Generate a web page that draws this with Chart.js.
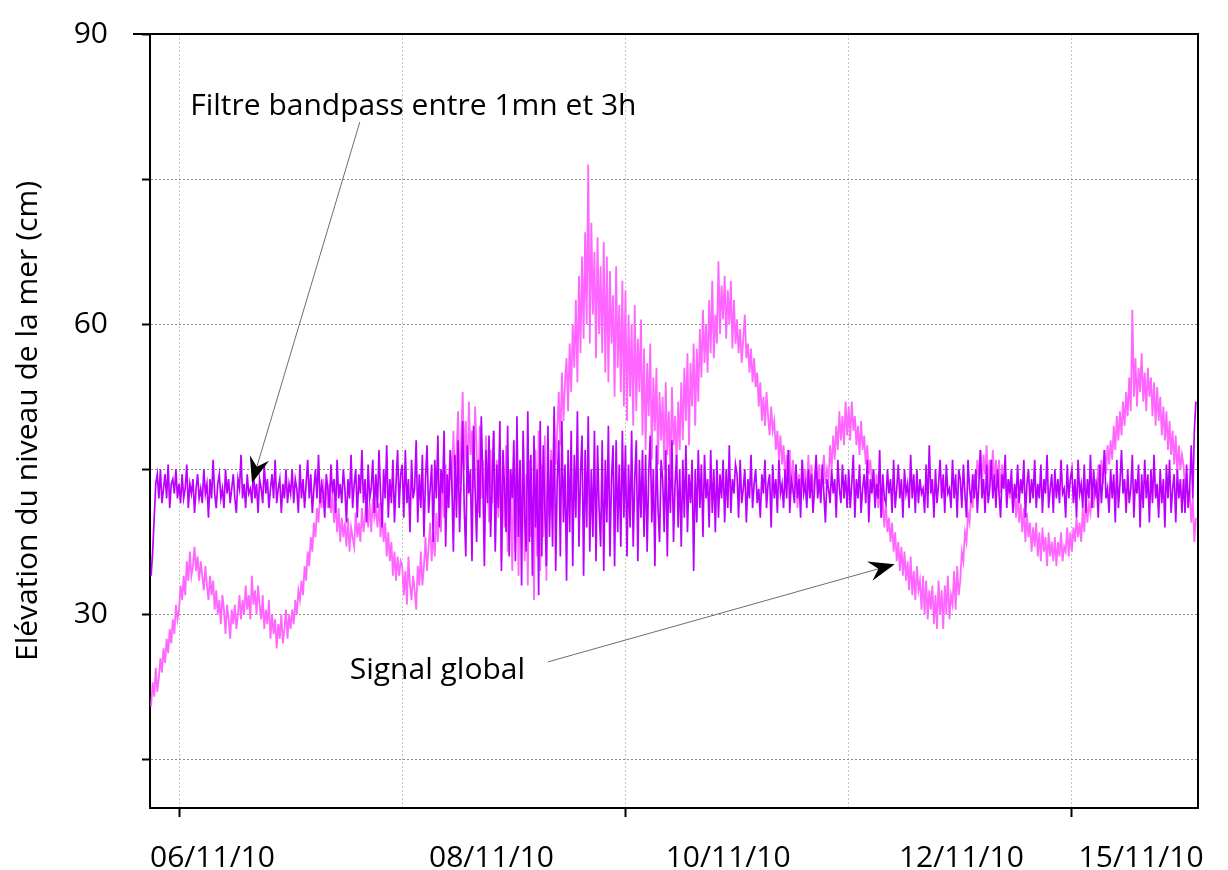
<!DOCTYPE html>
<html>
<head>
<meta charset="utf-8">
<script src="https://cdn.jsdelivr.net/npm/chart.js@4.4.1/dist/chart.umd.min.js"></script>
<style>
  html, body { margin: 0; padding: 0; background: #fff; }
</style>
</head>
<body>
<canvas id="chart" width="1228" height="870"></canvas>
<script>
'use strict';

// ── DATA ─────────────────────────────────────────────────────────────────────
// Sea level (cm), one reading every 20 min (72 per day). Day number = day of Nov 2010.
const SAMPLES_PER_DAY = 72;
const dayStarts = [5.75, 6, 7, 8, 9, 10, 11, 12, 13, 14, 15];

// "Signal global" (raw record)
const global05 = [20.5, 23, 21.5, 24.5, 22, 23.5, 25.5, 24, 26.5, 25, 27.5, 26, 28.5, 27, 29.5, 28, 31, 29.5];
const global06 = [
  30.5, 33, 31.5, 34, 32, 35.5, 33.5, 36.5, 34, 35, 37, 34.5,
  36, 33.5, 35.5, 34, 32.5, 35, 33, 31.5, 34, 32, 33.5, 30.5,
  32.5, 30, 31.5, 29, 32, 30.5, 28, 31, 29.5, 27.5, 30.5, 29,
  31, 28.5, 30, 32, 29.5, 31.5, 30, 33, 30.5, 32, 29.5, 34,
  31, 32.5, 30, 33, 31, 29.5, 32, 28.5, 30.5, 29, 31.5, 27.5,
  30, 28, 29.5, 26.5, 29, 27.5, 30, 27, 28.5, 30.5, 27.5, 30];
const global07 = [
  28.5, 30.5, 29, 31.5, 30, 32.5, 31.5, 33.5, 32, 35, 33.5, 36.5,
  35, 38, 36.5, 39.5, 38, 41, 39.5, 42.5, 41, 44, 42, 43.5,
  41, 43.5, 40.5, 42.5, 39.5, 41.5, 38.5, 41, 37.5, 40, 38, 39.5,
  37, 40, 36.5, 39, 38, 37, 40.5, 38, 39.5, 37.5, 41, 38.5,
  40, 42.5, 39, 41.5, 38.5, 42, 40, 41, 39, 41.5, 38, 40.5,
  37.5, 39.5, 36, 38.5, 35.5, 37.5, 34, 36.5, 33.5, 36, 34, 35.5];
const global08 = [
  35, 32, 34.5, 31, 36, 33, 31.5, 34, 32.5, 30.5, 35, 33,
  36.5, 33, 35, 38, 34.5, 37, 39.5, 35.5, 38.5, 36, 40.5, 37.5,
  42, 38.5, 44, 40, 45.5, 41, 43, 47, 42.5, 49, 44, 46.5,
  51, 43.5, 48, 53, 45, 50, 42.5, 52, 46.5, 49, 43, 51.5,
  47, 40.5, 49.5, 42, 46, 38.5, 48.5, 44, 39.5, 47, 41.5, 49,
  37.5, 46, 40, 48, 35.5, 44.5, 39, 47.5, 36.5, 45, 42, 34.5];
const global09 = [
  45, 36.5, 47.5, 34, 43, 39, 48, 35.5, 44.5, 33, 46, 38,
  42, 31.5, 47, 36, 49, 34.5, 45.5, 38, 48.5, 33.5, 44, 40,
  47, 43, 50.5, 45.5, 49, 53, 47.5, 55, 50, 54, 56.5, 51,
  58, 53, 60, 55.5, 62.5, 54, 65, 57, 67, 58.5, 69.5, 60,
  76.5, 58, 70.5, 61, 67.5, 56.5, 69, 59, 66, 57, 68.5, 55,
  67, 54, 65.5, 58, 63, 52.5, 66, 55.5, 62, 53, 64.5, 51.5];
const global10 = [
  63.5, 50, 61, 52.5, 60, 49.5, 62, 51, 58.5, 53, 60.5, 48.5,
  57.5, 47, 56, 50.5, 58, 46, 54.5, 49, 55.5, 45.5, 53, 48,
  52.5, 45, 54, 46.5, 51, 44.5, 53.5, 47.5, 50.5, 45.5, 52, 47,
  54, 48, 55.5, 50, 57, 47.5, 56, 51.5, 58, 49.5, 57.5, 52,
  59.5, 54.5, 61.5, 56, 60, 55, 62.5, 57, 64.5, 56.5, 61, 58,
  66.5, 59, 64, 60.5, 65, 58.5, 63.5, 60, 64.5, 57.5, 62.5, 58];
const global11 = [
  60.5, 57, 59.5, 56, 58.5, 61, 56.5, 58, 55, 57.5, 54, 56.5,
  53.5, 55, 51.5, 54, 50, 52.5, 49.5, 53, 50.5, 48.5, 51.5, 49,
  50, 47, 49, 46, 48.5, 45.5, 47.5, 44, 46.5, 43.5, 47, 42.5,
  46, 43, 45.5, 41, 44.5, 42.5, 46, 43.5, 45, 42, 46.5, 43,
  45.5, 42.5, 44, 46, 43, 45.5, 42, 44.5, 46.5, 43.5, 45, 44,
  47.5, 45, 48.5, 46, 49.5, 47, 51, 48, 50.5, 47.5, 52, 48.5];
const global12 = [
  51.5, 48, 52, 49, 50.5, 47.5, 49.5, 46.5, 50, 47, 48.5, 45.5,
  47.5, 44.5, 46, 43, 45, 42, 44.5, 41, 43, 40, 42, 39,
  41.5, 38.5, 40, 37.5, 39.5, 36.5, 38.5, 35.5, 37.5, 34.5, 37, 34,
  36.5, 33.5, 35.5, 32.5, 36, 32, 34.5, 31.5, 35, 32.5, 33.5, 30.5,
  34, 30, 33.5, 29.5, 32.5, 30.5, 33, 29, 32, 28.5, 33.5, 30,
  32.5, 28.5, 33, 30, 34, 29.5, 32, 31, 34.5, 30.5, 35, 32];
const global13 = [
  33.5, 36.5, 35.5, 38.5, 37.5, 40.5, 39.5, 42.5, 41, 44.5, 43, 46,
  44, 47, 43.5, 46.5, 44.5, 47.5, 43, 46, 44, 47, 43.5, 46,
  43.5, 46, 42.5, 45.5, 43, 44.5, 41.5, 44, 42, 43.5, 40.5, 43,
  40, 42.5, 39.5, 41.5, 38.5, 41, 37.5, 40.5, 38, 39.5, 36.5, 39,
  37, 39.5, 36, 38.5, 35.5, 39, 36.5, 38, 35, 38.5, 36, 37.5,
  35.5, 38, 35, 37.5, 36, 38.5, 35.5, 37, 36.5, 39, 36, 38.5];
const global14 = [
  36.5, 39, 37.5, 40, 38, 39.5, 37.5, 41, 38.5, 42, 39.5, 41.5,
  40.5, 43, 41, 44, 42, 45.5, 43, 46, 43.5, 47, 44.5, 47.5,
  45.5, 48, 46, 49.5, 47, 50.5, 48, 51, 48.5, 52, 49.5, 53,
  50.5, 54.5, 51, 61.5, 52.5, 56.5, 51.5, 55.5, 53, 57, 52, 55,
  51, 55.5, 52.5, 54.5, 50.5, 54, 49.5, 53.5, 50, 52.5, 48.5, 51.5,
  48, 51, 47, 50, 46.5, 49, 45.5, 48.5, 44.5, 47.5, 45, 46.5];
const global15 = [45.5, 43, 44.5, 41.5, 43, 39.5, 42, 37.5, 40];

// "Filtre bandpass entre 1mn et 3h"
const band05 = [34, 36.5, 40, 43.5, 44.5, 42, 45, 41.5, 43, 44.5, 42, 45.5, 41, 43.5, 44, 42.5, 45, 42];
const band06 = [
  43.5, 41.5, 44.5, 42, 43, 45.5, 41, 43.5, 42.5, 44, 40.5, 43,
  44.5, 42, 43, 41.5, 45, 42.5, 43.5, 40, 44, 42, 46, 42.5,
  41, 43.5, 44.5, 42, 43, 41, 45, 42.5, 44, 41.5, 43, 44.5,
  42, 40.5, 44, 43, 46.5, 42, 43.5, 41, 44.5, 42.5, 43, 41.5,
  45, 42, 43.5, 40.5, 44, 43, 41.5, 45.5, 42.5, 44, 41, 43,
  44.5, 42, 46, 41.5, 43, 44, 40.5, 43.5, 42, 45, 41.5, 43.5];
const band07 = [
  42.5, 45, 41.5, 44, 43, 40.5, 45.5, 42, 44, 41, 43.5, 46,
  42, 44.5, 40.5, 43, 45, 42, 46.5, 41.5, 43.5, 42.5, 40, 44.5,
  43, 41, 45.5, 42.5, 44, 40.5, 46, 42, 43.5, 41.5, 45, 43,
  39.5, 44, 42, 46.5, 41, 43.5, 45, 40, 44.5, 42.5, 47, 41.5,
  44, 39.5, 45.5, 42, 43, 46, 40.5, 44.5, 41, 47, 42.5, 39,
  45, 42, 47.5, 40, 44, 41.5, 46, 39.5, 43.5, 47, 41, 44.5];
const band08 = [
  45.5, 40, 47, 41.5, 44, 38.5, 46, 42, 43, 48, 39.5, 44.5,
  41, 46.5, 38, 44, 47.5, 40.5, 43, 45.5, 37.5, 46, 42, 48.5,
  39, 45, 42.5, 49, 37, 44.5, 41, 47, 43.5, 36.5, 46.5, 40,
  48, 38.5, 44, 50, 41, 36, 47.5, 42.5, 45, 35.5, 49.5, 43,
  37.5, 46, 40, 50.5, 44, 35, 47, 41.5, 48.5, 38, 43.5, 49,
  36.5, 45.5, 41, 50, 34.5, 47, 43, 38.5, 49.5, 36, 45, 42];
const band09 = [
  48, 35.5, 50.5, 38, 46, 33, 49, 40, 36.5, 51, 37.5, 46.5,
  34, 48.5, 39, 45, 32, 50, 36, 47.5, 41, 35, 49.5, 38,
  46, 37, 51.5, 34.5, 44, 48, 36, 50, 39.5, 45.5, 33.5, 47,
  38.5, 49, 35, 46.5, 40, 51, 37, 44.5, 48.5, 34, 47, 39,
  50.5, 36.5, 45, 38, 49, 35.5, 47.5, 41, 37, 48, 34.5, 46,
  39.5, 49.5, 36, 44, 47.5, 35, 48, 38.5, 45.5, 37, 49, 40];
const band10 = [
  47.5, 36, 45.5, 39, 49, 37, 44, 48, 35.5, 46, 40, 47,
  38, 46.5, 36.5, 44.5, 48.5, 39.5, 45, 35, 47.5, 41, 37.5, 46,
  44, 38.5, 47, 36, 45.5, 40.5, 48, 37.5, 43.5, 46.5, 39, 45,
  37, 46, 40, 47.5, 38.5, 44.5, 41.5, 46, 34.5, 45, 39.5, 47,
  41, 45.5, 38, 46.5, 42, 44, 39, 47, 40.5, 45, 38.5, 46,
  40, 44.5, 42, 46, 39.5, 45, 41, 47.5, 40.5, 44, 42.5, 45.5];
const band11 = [
  44.5, 40, 46, 41.5, 43, 45, 39.5, 44, 42, 46.5, 41, 43.5,
  45, 41.5, 43, 40, 44.5, 42.5, 46, 41, 43.5, 44.5, 39, 45.5,
  42, 44, 40.5, 46, 42.5, 43.5, 41, 45, 42, 47, 40.5, 44,
  43, 41.5, 45.5, 42, 44, 40, 46, 42.5, 43.5, 41, 45, 42,
  44.5, 40.5, 43, 46.5, 42, 44, 41.5, 45.5, 42.5, 39.5, 44, 43,
  41.5, 45, 42.5, 44, 40, 46, 43, 41.5, 45.5, 42, 44.5, 41];
const band12 = [
  45, 41, 43.5, 46.5, 40, 44, 42, 45.5, 40.5, 43, 44.5, 41.5,
  46, 39.5, 44, 42.5, 45, 41, 43.5, 42, 47, 40, 44.5, 42,
  41.5, 45, 42.5, 44, 40.5, 46, 41, 43, 45.5, 42, 44, 40,
  45, 42.5, 43.5, 41, 46.5, 42, 44.5, 40.5, 45, 41.5, 44, 42.5,
  43, 40.5, 45.5, 41, 47.5, 42.5, 44, 40, 45, 41.5, 43.5, 46,
  42, 44.5, 40.5, 45.5, 42.5, 43, 41, 46, 42, 44.5, 40, 45];
const band13 = [
  44, 41, 45.5, 42.5, 40, 46, 43, 41.5, 44.5, 42, 45, 40.5,
  43.5, 47, 42, 44, 40.5, 45.5, 41.5, 43, 46, 42, 44.5, 41,
  45, 42.5, 40, 44.5, 43, 46.5, 41, 44, 42.5, 45, 40.5, 43.5,
  42, 45.5, 41.5, 44, 42.5, 46, 40, 43.5, 45, 41.5, 44, 42,
  46, 41, 43.5, 42, 45.5, 40.5, 44, 42.5, 46.5, 41, 43, 44.5,
  40.5, 45, 42, 44, 41.5, 46, 42.5, 43, 40, 45.5, 42, 44];
const band14 = [
  45, 41.5, 44, 40, 46, 42.5, 43.5, 41, 45.5, 40.5, 44, 42,
  46.5, 41, 45, 42.5, 43.5, 40, 45.5, 41.5, 44, 47, 42, 43,
  40.5, 45, 42, 44.5, 39.5, 46, 41, 43.5, 47, 42.5, 44, 40.5,
  45, 41.5, 43, 46.5, 40, 44, 42.5, 45.5, 39, 44.5, 41, 46,
  42, 44.5, 39.5, 45, 41.5, 46.5, 42, 43.5, 40, 45, 41.5, 44,
  39, 45.5, 42, 46, 40.5, 43, 44.5, 39.5, 45, 42, 44, 40.5];
const band15 = [44, 40.5, 45.5, 41, 43, 47.5, 42, 49, 52];

const globalDays = [global05, global06, global07, global08, global09, global10, global11, global12, global13, global14, global15];
const bandDays   = [band05, band06, band07, band08, band09, band10, band11, band12, band13, band14, band15];

// Axes
const X_MIN = 5.74, X_MAX = 15.13;
const gridDays   = [6, 8, 10, 12, 14];
const majorDays  = [6, 10, 14];
const labelDays  = [6.3, 8.8, 10.92, 13.01, 14.62];
const dateLabels = ['06/11/10', '08/11/10', '10/11/10', '12/11/10', '15/11/10'];
const yGrid      = [15, 30, 45, 60, 75, 90];
const yLabelled  = [30, 60, 90];

// ── HELPERS ──────────────────────────────────────────────────────────────────
function toPoints(chunks) {
  const pts = [];
  chunks.forEach((arr, k) => {
    arr.forEach((v, i) => pts.push({ x: dayStarts[k] + i / SAMPLES_PER_DAY, y: v }));
  });
  return pts;
}

// keep the plot box where the layout padding puts it
function noOverflow(s) {
  s.paddingLeft = 0; s.paddingRight = 0; s.paddingTop = 0; s.paddingBottom = 0;
}

const FONT = "'Open Sans', 'DejaVu Sans', sans-serif";
Chart.defaults.font.family = FONT;
Chart.defaults.color = '#000';

// Plot frame: top border (with the longer 90 tick) and right border
const framePlugin = {
  id: 'frame',
  afterDraw(chart) {
    const { ctx, chartArea: a } = chart;
    ctx.save();
    ctx.strokeStyle = '#000';
    ctx.lineWidth = 2;
    ctx.beginPath();
    ctx.moveTo(a.left - 17, a.top);
    ctx.lineTo(a.right, a.top);
    ctx.lineTo(a.right, a.bottom);
    ctx.stroke();
    ctx.restore();
  },
};

// Callout texts and arrows, placed in data units
const notes = [
  { text: 'Filtre bandpass entre 1mn et 3h', x: 6.1, y: 81.6, from: [7.62, 80.9], to: [6.654, 43.6] },
  { text: 'Signal global', x: 7.53, y: 23.3, from: [9.305, 25.1], to: [12.413, 35.2] },
];

function drawArrow(ctx, x1, y1, x2, y2) {
  const ang = Math.atan2(y2 - y1, x2 - x1);
  const len = 26, half = 10;
  ctx.strokeStyle = '#6e6e6e';
  ctx.lineWidth = 1;
  ctx.beginPath();
  ctx.moveTo(x1, y1);
  ctx.lineTo(x2 - Math.cos(ang) * 12, y2 - Math.sin(ang) * 12);
  ctx.stroke();
  ctx.save();
  ctx.translate(x2, y2);
  ctx.rotate(ang);
  ctx.fillStyle = '#000';
  ctx.beginPath();
  ctx.moveTo(0, 0);
  ctx.lineTo(-len, -half);
  ctx.lineTo(-len * 0.65, 0);
  ctx.lineTo(-len, half);
  ctx.closePath();
  ctx.fill();
  ctx.restore();
}

const notesPlugin = {
  id: 'notes',
  afterDatasetsDraw(chart) {
    const { ctx, scales: { x, y } } = chart;
    ctx.save();
    notes.forEach(n => {
      drawArrow(ctx, x.getPixelForValue(n.from[0]), y.getPixelForValue(n.from[1]),
                     x.getPixelForValue(n.to[0]),   y.getPixelForValue(n.to[1]));
      ctx.fillStyle = '#000';
      ctx.font = '30px ' + FONT;
      ctx.textAlign = 'left';
      ctx.textBaseline = 'alphabetic';
      ctx.fillText(n.text, x.getPixelForValue(n.x), y.getPixelForValue(n.y));
    });
    ctx.restore();
  },
};

// ── CHART ────────────────────────────────────────────────────────────────────
new Chart(document.getElementById('chart'), {
  type: 'line',
  data: {
    datasets: [
      {
        label: 'Filtre bandpass entre 1mn et 3h',
        data: toPoints(bandDays),
        borderColor: '#bb00ff',
        borderWidth: 1.7,
        order: 1,
      },
      {
        label: 'Signal global',
        data: toPoints(globalDays),
        borderColor: '#ff66ff',
        borderWidth: 1.8,
        order: 2,
      },
    ],
  },
  options: {
    responsive: false,
    animation: false,
    layout: { padding: { left: 0, right: 30, top: 34, bottom: 0 } },
    elements: { point: { radius: 0 }, line: { tension: 0 } },
    plugins: { legend: { display: false }, tooltip: { enabled: false } },
    scales: {
      x: {
        type: 'linear', position: 'bottom', weight: 0,
        min: X_MIN, max: X_MAX,
        afterBuildTicks: s => { s.ticks = gridDays.map(v => ({ value: v })); },
        afterFit: s => { s.height = 10; noOverflow(s); },
        ticks: { display: false },
        grid: {
          color: '#c4c4c4', lineWidth: 1,
          tickLength: 9, tickWidth: 2, tickBorderDash: [],
          tickColor: c => (c.tick && majorDays.includes(c.tick.value)) ? '#000' : 'rgba(0,0,0,0)',
        },
        border: { display: true, color: '#000', width: 2, dash: [2, 2] },
      },
      xl: {
        type: 'linear', position: 'bottom', weight: 1,
        min: X_MIN, max: X_MAX,
        afterBuildTicks: s => { s.ticks = labelDays.map(v => ({ value: v })); },
        afterFit: s => { s.height = 52; noOverflow(s); },
        grid: { display: false, drawTicks: false },
        border: { display: false },
        ticks: {
          autoSkip: false, maxRotation: 0, padding: 22,
          color: '#000', font: { size: 30 },
          callback: (v, i) => dateLabels[i],
        },
      },
      y: {
        type: 'linear', min: 10, max: 90,
        afterBuildTicks: s => { s.ticks = yGrid.map(v => ({ value: v })); },
        afterFit: s => { s.width = 150; noOverflow(s); },
        ticks: {
          padding: 34, color: '#000', font: { size: 30 },
          callback: v => yLabelled.includes(v) ? String(v) : '',
        },
        grid: { color: '#8c8c8c', lineWidth: 1, tickLength: 8, tickWidth: 2, tickColor: '#000', tickBorderDash: [] },
        border: { display: true, color: '#000', width: 2, dash: [2, 2] },
        title: {
          display: true, text: 'Elévation du niveau de la mer (cm)',
          color: '#000', font: { size: 30 }, padding: { top: 10, bottom: 0 },
        },
      },
    },
  },
  plugins: [framePlugin, notesPlugin],
});
</script>
</body>
</html>
